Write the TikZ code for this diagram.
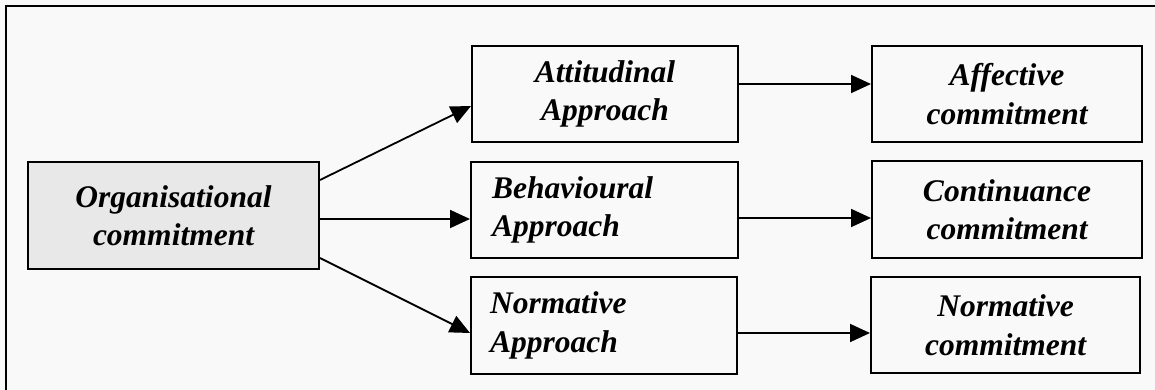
\documentclass[tikz,border=0pt]{standalone}
\usepackage{fontspec}
\setmainfont{Liberation Serif}
\usetikzlibrary{arrows.meta,calc}
\begin{document}
\begin{tikzpicture}[x=1pt,y=-1pt,
  box/.style={draw=black,line width=2pt,inner sep=0pt,anchor=north west,
    font=\fontsize{31.5}{38.5}\selectfont\bfseries\itshape},
  conn/.style={line width=1.8pt,-{Triangle[length=20pt,width=18pt]}}]
  % page background and the frame's two visible edges
  \fill[gray!5] (0,0) rectangle (1155,390);
  \useasboundingbox (0,0) rectangle (1155,390);
  \coordinate (ftl) at (6,6);
  \coordinate (ftr) at (1155,6);
  \coordinate (fbl) at (6,390);
  \draw[line width=2pt] (fbl) -- (ftl) -- (ftr);

  % source box
  \node[box,fill=gray!18,minimum width=291pt,minimum height=107pt,align=center]
    (org) at (27,161) {Organisational\\commitment};

  % approaches
  \node[box,minimum width=266pt,minimum height=96pt,align=center]
    (att) at (471,45) {Attitudinal\\Approach};
  \node[box,minimum width=267pt,minimum height=96pt,text width=225pt,align=left]
    (beh) at (470,161) {Behavioural\\Approach};
  \node[box,minimum width=266pt,minimum height=97pt,text width=228pt,align=left]
    (nor) at (470,276) {Normative\\Approach};

  % commitment types
  \node[box,minimum width=270pt,minimum height=96pt,align=center]
    (aff) at (871,45) {Affective\\commitment};
  \node[box,minimum width=270pt,minimum height=97pt,align=center]
    (con) at (871,160) {Continuance\\commitment};
  \node[box,minimum width=269pt,minimum height=96pt,align=center]
    (ncm) at (870,276) {Normative\\commitment};

  % connectors
  \draw[conn] ($(org.north east)+(0,19)$) -- ($(att.north west)+(0,61)$);
  \draw[conn] ($(org.north east)+(0,58)$) -- ($(beh.north west)+(0,58)$);
  \draw[conn] ($(org.north east)+(0,97)$) -- ($(nor.north west)+(0,57)$);
  \draw[conn] ($(att.north east)+(0,39)$) -- ($(aff.north west)+(0,39)$);
  \draw[conn] ($(beh.north east)+(0,57)$) -- ($(con.north west)+(0,58)$);
  \draw[conn] ($(nor.north east)+(0,57)$) -- ($(ncm.north west)+(0,57)$);
\end{tikzpicture}
\end{document}
